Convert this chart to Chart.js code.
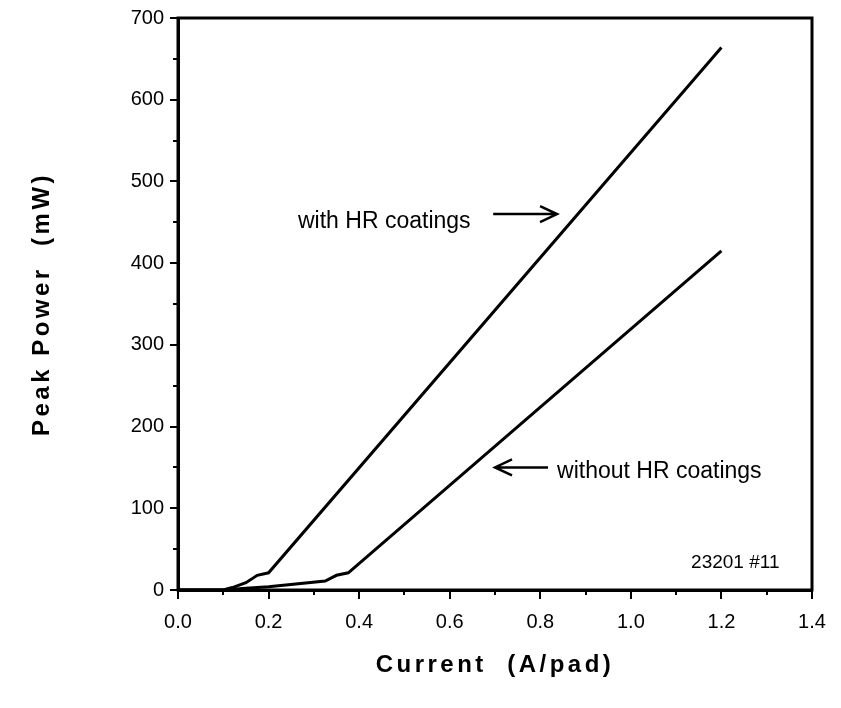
<!DOCTYPE html>
<html>
<head>
<meta charset="utf-8">
<script src="https://cdn.jsdelivr.net/npm/chart.js@4/dist/chart.umd.min.js"></script>
<style>
  html, body { margin: 0; padding: 0; background: #fff; }
  #wrap { width: 841px; height: 708px; }
</style>
</head>
<body>
<div id="wrap"><canvas id="c" width="841" height="708"></canvas></div>
<script>
// ---- data ----
const currentWithHR = [0.0, 0.10, 0.12, 0.15, 0.175, 0.20, 1.20];
const powerWithHR   = [0,   0,    3,    9,    18,    21,   664];
const currentWithoutHR = [0.0, 0.10, 0.15, 0.20, 0.325, 0.35, 0.376, 1.20];
const powerWithoutHR   = [0,   0,    2,    4,    11,    18,   21,    415];
const xTickValues = [0.0, 0.2, 0.4, 0.6, 0.8, 1.0, 1.2, 1.4];
const yTickValues = [0, 100, 200, 300, 400, 500, 600, 700];
const xMinorTicks = [0.1, 0.3, 0.5, 0.7, 0.9, 1.1, 1.3];
const yMinorTicks = [50, 150, 250, 350, 450, 550, 650];
const annotationLabels = ['with HR coatings', 'without HR coatings', '23201 #11'];
const annotationX = [0.265, 0.837, 1.133];      // text left, in A/pad
const annotationY = [443, 137.6, 27];           // text baseline, in mW
const arrowFromX = [0.696, 0.817];
const arrowToX   = [0.837, 0.700];
const arrowY     = [460, 150];

const FONT = '"Liberation Sans", Arial, Helvetica, sans-serif';

// add letter spacing to axis titles (wide old Mac Helvetica look)
const origDrawTitle = Chart.Scale.prototype.drawTitle;
Chart.Scale.prototype.drawTitle = function () {
  const ctx = this.ctx;
  ctx.save();
  try { ctx.letterSpacing = '3.5px'; } catch (e) {}
  origDrawTitle.apply(this, arguments);
  ctx.restore();
};

const extras = {
  id: 'extras',
  afterDraw(chart) {
    const ctx = chart.ctx;
    const xs = chart.scales.x, ys = chart.scales.y;
    const a = chart.chartArea;
    ctx.save();
    // frame
    ctx.strokeStyle = '#000';
    ctx.lineWidth = 3;
    ctx.strokeRect(a.left, a.top, a.right - a.left, a.bottom - a.top);
    // minor ticks
    ctx.lineWidth = 2;
    ctx.beginPath();
    xMinorTicks.forEach(v => {
      const px = Math.round(xs.getPixelForValue(v));
      ctx.moveTo(px, a.bottom);
      ctx.lineTo(px, a.bottom + 5);
    });
    yMinorTicks.forEach(v => {
      const py = Math.round(ys.getPixelForValue(v));
      ctx.moveTo(a.left, py);
      ctx.lineTo(a.left - 5, py);
    });
    ctx.stroke();
    // arrows
    ctx.lineWidth = 2.5;
    for (let i = 0; i < arrowFromX.length; i++) {
      const x0 = xs.getPixelForValue(arrowFromX[i]);
      const x1 = xs.getPixelForValue(arrowToX[i]);
      const y = ys.getPixelForValue(arrowY[i]);
      const dir = Math.sign(x1 - x0);
      ctx.beginPath();
      ctx.moveTo(x0, y);
      ctx.lineTo(x1, y);
      ctx.moveTo(x1 - dir * 17, y - 8);
      ctx.lineTo(x1, y);
      ctx.lineTo(x1 - dir * 17, y + 8);
      ctx.stroke();
    }
    // labels
    ctx.fillStyle = '#000';
    ctx.textBaseline = 'alphabetic';
    ctx.textAlign = 'left';
    const sizes = [23, 23, 19];
    annotationLabels.forEach((t, i) => {
      ctx.font = sizes[i] + 'px ' + FONT;
      ctx.fillText(t, xs.getPixelForValue(annotationX[i]), ys.getPixelForValue(annotationY[i]));
    });
    ctx.restore();
  }
};

new Chart(document.getElementById('c'), {
  type: 'scatter',
  data: {
    datasets: [
      {
        label: 'with HR coatings',
        data: currentWithHR.map((x, i) => ({ x, y: powerWithHR[i] })),
        showLine: true, borderColor: '#000', borderWidth: 3, pointRadius: 0, tension: 0
      },
      {
        label: 'without HR coatings',
        data: currentWithoutHR.map((x, i) => ({ x, y: powerWithoutHR[i] })),
        showLine: true, borderColor: '#000', borderWidth: 3, pointRadius: 0, tension: 0
      }
    ]
  },
  options: {
    responsive: false,
    animation: false,
    layout: { padding: { top: 15, right: 29, left: 0, bottom: 0 } },
    plugins: { legend: { display: false }, tooltip: { enabled: false } },
    scales: {
      x: {
        type: 'linear', min: 0, max: 1.4,
        afterFit(s) { s.height = 118; },
        afterBuildTicks(s) { s.ticks = xTickValues.map(v => ({ value: v })); },
        grid: { drawOnChartArea: false, drawTicks: true, tickLength: 9, color: '#000', lineWidth: 2 },
        border: { display: true, color: '#000', width: 3 },
        ticks: {
          color: '#000', padding: 11, maxRotation: 0,
          font: { family: FONT, size: 20 },
          callback: v => Number(v).toFixed(1)
        },
        title: {
          display: true, text: 'Current  (A/pad)', color: '#000',
          font: { family: FONT, size: 24, weight: 'bold' },
          padding: { top: 0, bottom: 28 }
        }
      },
      y: {
        type: 'linear', min: 0, max: 700,
        afterFit(s) { s.width = 178; },
        afterBuildTicks(s) { s.ticks = yTickValues.map(v => ({ value: v })); },
        grid: { drawOnChartArea: false, drawTicks: true, tickLength: 8, color: '#000', lineWidth: 2 },
        border: { display: true, color: '#000', width: 3 },
        ticks: {
          color: '#000', padding: 6,
          font: { family: FONT, size: 20 },
          callback: v => String(v)
        },
        title: {
          display: true, text: 'Peak Power  (mW)', color: '#000',
          font: { family: FONT, size: 24, weight: 'bold' },
          padding: { top: 28, bottom: 0 }
        }
      }
    }
  },
  plugins: [extras]
});
</script>
</body>
</html>
